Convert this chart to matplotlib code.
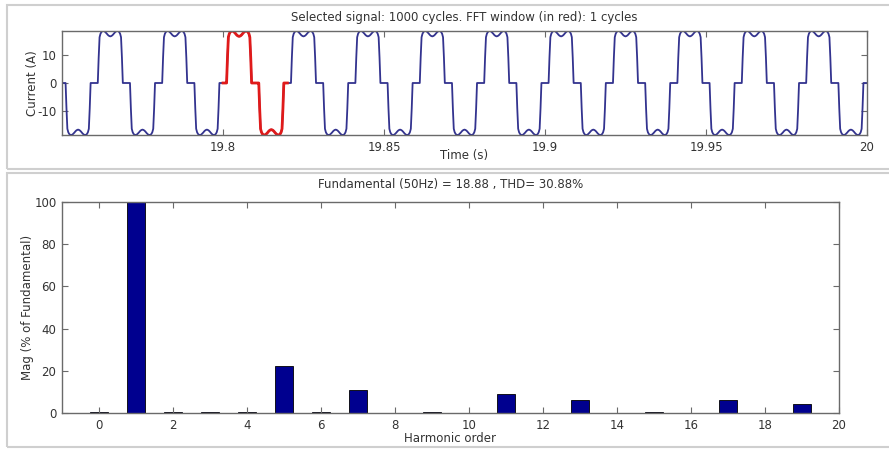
import numpy as np
import matplotlib
matplotlib.use("Agg")
import matplotlib.pyplot as plt
from matplotlib.patches import Rectangle

# line current, positive half cycle sampled every 5 degrees (0..175 deg), in A
half_cycle = [0.0, 0.0, 0.0, 0.0, 0.0, 9.0,
              16.2, 17.4, 18.0, 18.3, 18.4, 18.35,
              18.15, 17.85, 17.5, 17.1, 16.8, 16.6,
              16.5, 16.6, 16.8, 17.1, 17.5, 17.85,
              18.15, 18.35, 18.4, 18.3, 18.0, 17.4,
              16.2, 9.0, 0.0, 0.0, 0.0, 0.0]
f0 = 50.0
t_start, t_end = 19.75, 20.0
fft_start, fft_cycles = 19.8, 1

# harmonic spectrum, % of fundamental
harmonics = list(range(0, 20))
mag_pct = [0.3, 100, 0.3, 0.25, 0.3, 22.5, 0.4, 11.1, 0.0, 0.3,
           0.0, 9.2, 0.0, 6.2, 0.0, 0.3, 0.0, 6.0, 0.0, 4.4]

fundamental = 18.88
thd = 30.88

cycle = np.array(half_cycle + [-v for v in half_cycle])
spc = len(cycle)                       # samples per cycle
n = int(round((t_end - t_start) * f0 * spc)) + 1
t = t_start + np.arange(n) / (f0 * spc)
offset = int(round(((t_start - fft_start) * f0 % 1) * spc))
i_sig = cycle[(np.arange(n) + offset) % spc]

win = (t >= fft_start - 1e-9) & (t <= fft_start + fft_cycles / f0 + 1e-9)

plt.rcParams['font.family'] = ['DejaVu Sans']
plt.rcParams['font.size'] = 8.5
plt.rcParams['axes.unicode_minus'] = False

W, H = 889, 450
fig = plt.figure(figsize=(W / 100, H / 100), dpi=100)
fig.patch.set_facecolor('white')

def px_box(left, top, right, bottom):
    return [left / W, 1 - bottom / H, (right - left) / W, (bottom - top) / H]

# panel frames
for top, bottom in [(5, 169), (173, 447)]:
    fig.add_artist(Rectangle((7 / W, 1 - bottom / H), 1.0, (bottom - top) / H,
                             transform=fig.transFigure, fill=False,
                             edgecolor='#cfcfcf', lw=1.5))

axis_col = '#6a6a6a'
text_col = '#333333'

def style(ax):
    for s in ax.spines.values():
        s.set_color(axis_col)
        s.set_linewidth(1.0)
    ax.tick_params(direction='in', top=True, right=True, length=4,
                   color=axis_col, labelcolor=text_col, pad=4)

# time signal
ax1 = fig.add_axes(px_box(62, 31, 867, 135))
ax1.plot(t, i_sig, color='#33338f', lw=1.3)
ax1.plot(t[win], i_sig[win], color='#e01a1a', lw=2.0)
ax1.set_xlim(t_start, t_end)
ax1.set_ylim(i_sig.min(), i_sig.max())
ax1.set_xticks([19.8, 19.85, 19.9, 19.95, 20])
ax1.set_xticklabels(['19.8', '19.85', '19.9', '19.95', '20'])
ax1.set_yticks([-10, 0, 10])
ax1.set_title('Selected signal: %d cycles. FFT window (in red): %d cycles'
              % (1000, fft_cycles), color=text_col, fontsize=8.5, pad=7)
ax1.set_xlabel('Time (s)', color=text_col, labelpad=-3)
ax1.set_ylabel('Current (A)', color=text_col, labelpad=-1)
style(ax1)

# spectrum
ax2 = fig.add_axes(px_box(62, 202, 839, 413))
edges = ['k' if m > 0 else 'none' for m in mag_pct]
ax2.bar(harmonics, mag_pct, width=0.5, color='#00008f', edgecolor=edges, lw=0.6)
ax2.set_xlim(-1, 20)
ax2.set_ylim(0, 100)
ax2.set_xticks(range(0, 21, 2))
ax2.set_yticks(range(0, 101, 20))
ax2.set_title('Fundamental (50Hz) = %.2f , THD= %.2f%%' % (fundamental, thd),
              color=text_col, fontsize=8.5, pad=10)
ax2.set_xlabel('Harmonic order', color=text_col, labelpad=0)
ax2.set_ylabel('Mag (% of Fundamental)', color=text_col, labelpad=0)
style(ax2)

fig.savefig('out.png', dpi=100)
